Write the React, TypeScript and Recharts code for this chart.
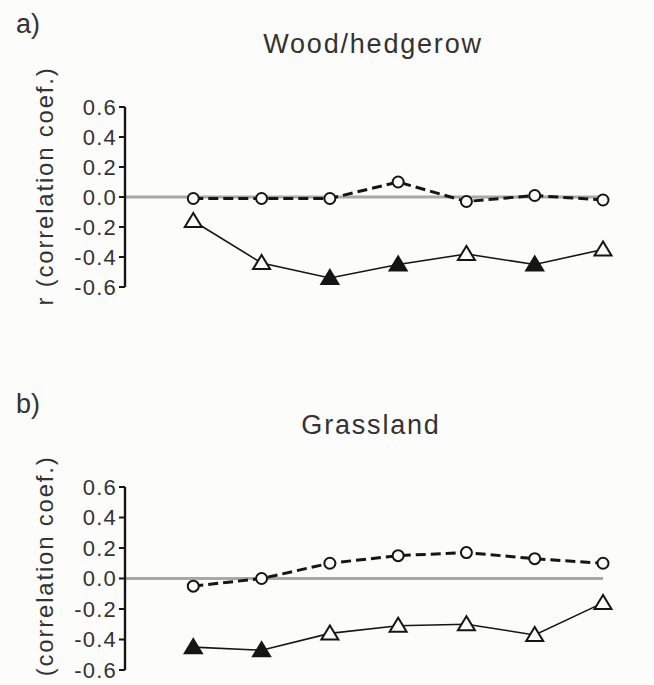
import { LineChart, Line, XAxis, YAxis, ReferenceLine } from 'recharts';

const steps = [1, 2, 3, 4, 5, 6, 7];
const yTicks = [-0.6, -0.4, -0.2, 0, 0.2, 0.4, 0.6];

const woodCircle = [-0.01, -0.01, -0.01, 0.1, -0.03, 0.01, -0.02];
const woodTriangle = [-0.16, -0.44, -0.54, -0.45, -0.38, -0.45, -0.35];
const woodTriFilled = [false, false, true, true, false, true, false];

const grassCircle = [-0.05, 0.0, 0.1, 0.15, 0.17, 0.13, 0.1];
const grassTriangle = [-0.45, -0.47, -0.36, -0.31, -0.3, -0.37, -0.16];
const grassTriFilled = [true, true, false, false, false, false, false];

const FONT = '"Liberation Sans", Arial, sans-serif';
const INK = '#151515';
const TEXT = '#333333';

type Row = { step: number; circle: number; triangle: number; filled: boolean };

const build = (c: number[], t: number[], f: boolean[]): Row[] =>
  steps.map((s, i) => ({ step: s, circle: c[i], triangle: t[i], filled: f[i] }));

const circleDot = (p: any) => (
  <circle
    key={`c-${p.index}`}
    cx={p.cx}
    cy={p.cy}
    r={5.5}
    fill="#fcfcfa"
    stroke={INK}
    strokeWidth={2}
  />
);

const triangleDot = (p: any) => {
  const { cx, cy } = p;
  const filled = p.payload?.filled;
  return (
    <polygon
      key={`t-${p.index}`}
      points={`${cx},${cy - 8} ${cx - 8.5},${cy + 6} ${cx + 8.5},${cy + 6}`}
      fill={filled ? INK : '#fcfcfa'}
      stroke={INK}
      strokeWidth={2}
    />
  );
};

function Panel({
  data,
  height,
  top,
  bottom,
}: {
  data: Row[];
  height: number;
  top: number;
  bottom: number;
}) {
  return (
    <LineChart
      width={654}
      height={height}
      data={data}
      margin={{ top, right: 51, bottom, left: 45 }}
    >
      <XAxis dataKey="step" type="number" domain={[0, 7]} hide />
      <YAxis
        type="number"
        domain={[-0.6, 0.6]}
        ticks={yTicks}
        width={80}
        interval={0}
        tickFormatter={(v: number) => v.toFixed(1)}
        tickSize={6}
        tickMargin={2}
        axisLine={{ stroke: INK, strokeWidth: 2.4 }}
        tickLine={{ stroke: INK, strokeWidth: 2 }}
        tick={{ fill: TEXT, fontSize: 22, fontFamily: FONT, letterSpacing: 1.2 }}
      />
      <ReferenceLine y={0} stroke="#a8a8a8" strokeWidth={3} />
      <Line
        dataKey="triangle"
        stroke={INK}
        strokeWidth={1.6}
        dot={triangleDot}
        activeDot={false}
        isAnimationActive={false}
      />
      <Line
        dataKey="circle"
        stroke={INK}
        strokeWidth={3}
        strokeDasharray="10 5"
        dot={circleDot}
        activeDot={false}
        isAnimationActive={false}
      />
    </LineChart>
  );
}

const textStyle: React.CSSProperties = {
  position: 'absolute',
  fontFamily: FONT,
  color: TEXT,
  whiteSpace: 'nowrap',
  lineHeight: 1,
};

function YLabel({ centerY }: { centerY: number }) {
  return (
    <div
      style={{
        ...textStyle,
        fontSize: 24,
        letterSpacing: 1.8,
        left: 45,
        top: centerY,
        transform: 'translate(-50%, -50%) rotate(-90deg)',
      }}
    >
      r (correlation coef.)
    </div>
  );
}

export default function App() {
  const wood = build(woodCircle, woodTriangle, woodTriFilled);
  const grass = build(grassCircle, grassTriangle, grassTriFilled);
  return (
    <div
      style={{
        position: 'absolute',
        left: 0,
        top: 0,
        width: 654,
        height: 685,
        overflow: 'hidden',
        background: '#fcfcfa',
      }}
    >
      <div style={{ ...textStyle, left: 16, top: 11, fontSize: 27 }}>a)</div>
      <div style={{ ...textStyle, left: 373, top: 31, fontSize: 27, letterSpacing: 1.8, transform: 'translateX(-50%)' }}>
        Wood/hedgerow
      </div>
      <div style={{ ...textStyle, left: 16, top: 391, fontSize: 27 }}>b)</div>
      <div style={{ ...textStyle, left: 371, top: 412, fontSize: 27, letterSpacing: 1.8, transform: 'translateX(-50%)' }}>
        Grassland
      </div>
      <div style={{ position: 'absolute', left: 0, top: 0 }}>
        <Panel data={wood} height={340} top={107} bottom={53} />
      </div>
      <div style={{ position: 'absolute', left: 0, top: 340 }}>
        <Panel data={grass} height={345} top={147} bottom={15} />
      </div>
      <YLabel centerY={186} />
      <YLabel centerY={575} />
    </div>
  );
}
